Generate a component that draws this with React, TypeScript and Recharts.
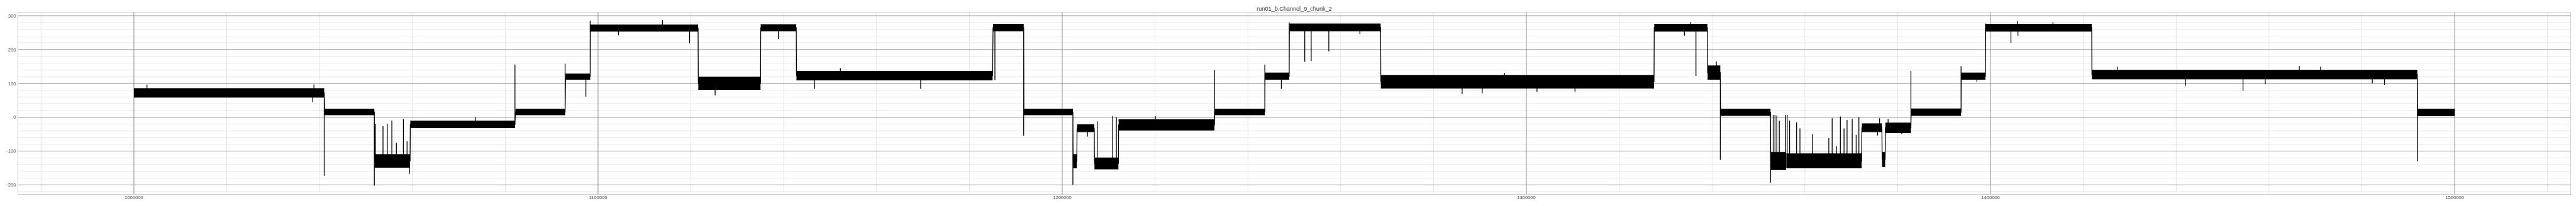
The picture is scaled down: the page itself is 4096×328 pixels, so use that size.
import React from 'react';
import {
  ComposedChart,
  Area,
  Line,
  XAxis,
  YAxis,
  CartesianGrid,
} from 'recharts';

// step levels of the trace: start, end, lower and upper edge of the noise band
const segStart = [1000000, 1041100, 1051850, 1059550, 1082200, 1093000, 1098350, 1121600, 1135050, 1142750, 1185100, 1191750, 1202350, 1203200, 1206950, 1212150, 1232850, 1243700, 1248950, 1268650, 1327550, 1339050, 1341850, 1352650, 1356000, 1372280, 1376650, 1377350, 1382900, 1393700, 1398950, 1421850, 1492000];
const segEnd = [1041000, 1051800, 1059500, 1082100, 1092900, 1098300, 1121550, 1135000, 1142700, 1185000, 1191700, 1202300, 1203150, 1206900, 1212100, 1232800, 1243650, 1248900, 1268600, 1327500, 1339000, 1341780, 1352600, 1355950, 1372230, 1376600, 1377300, 1382850, 1393650, 1398900, 1421800, 1491950, 1500000];
const segLow = [59, 7, -148, -31, 7, 112, 254, 82, 255, 110, 255, 7, -150, -43, -153, -38, 7, 112, 255, 86, 254, 112, 5, -155, -150, -43, -146, -46, 5, 112, 254, 113, 4];
const segHigh = [85, 24, -110, -11, 24, 128, 273, 119, 274, 136, 275, 24, -110, -22, -120, -7, 24, 131, 276, 124, 275, 152, 24, -104, -108, -19, -104, -17, 25, 131, 275, 139, 24];

// isolated spikes in the trace
const spikeX = [1002820, 1038530, 1038790, 1041000, 1051800, 1052030, 1053670, 1054590, 1055570, 1056550, 1058060, 1058850, 1059370, 1073590, 1082100, 1092900, 1097380, 1098300, 1104390, 1113890, 1119720, 1125220, 1138850, 1146640, 1152210, 1169510, 1185500, 1191700, 1202300, 1205440, 1207540, 1210880, 1211670, 1220060, 1232800, 1243650, 1247210, 1248900, 1252260, 1253640, 1257440, 1264130, 1286160, 1290490, 1295270, 1302290, 1310480, 1334050, 1335360, 1336540, 1340930, 1341780, 1352600, 1353180, 1353570, 1353960, 1354490, 1355870, 1356190, 1356710, 1358220, 1358940, 1361630, 1365160, 1365880, 1366800, 1367650, 1368440, 1369090, 1370200, 1371050, 1371640, 1375640, 1376100, 1377930, 1380880, 1382850, 1393650, 1397060, 1398900, 1404400, 1405780, 1405910, 1413450, 1427410, 1442020, 1454400, 1459190, 1466530, 1471120, 1482260, 1484880, 1491950];
const spikeY = [97, 45, 97, -173, -202, -19, -26, -19, -10, -76, -5, -71, -167, 0, 156, 158, 61, 286, 242, 287, 219, 65, 231, 84, 145, 84, 110, -54, -199, -57, -12, 3, 0, 3, 140, 156, 84, 280, 164, 166, 195, 246, 68, 71, 131, 75, 75, 241, 281, 122, 165, -126, -193, 7, 7, 5, -10, 7, 7, -10, -15, -33, -50, -62, -3, -85, 2, -33, -8, -5, -52, 0, -54, -3, -5, -50, 137, 151, 105, 277, 220, 285, 241, 281, 150, 93, 78, 98, 151, 150, 100, 96, -130];

const xTicks = [1000000, 1100000, 1200000, 1300000, 1400000, 1500000];
const yTicks = [-200, -100, 0, 100, 200, 300];
const xMinor = [980000, 1020000, 1040000, 1060000, 1080000, 1120000, 1140000, 1160000, 1180000, 1220000, 1240000, 1260000, 1280000, 1320000, 1340000, 1360000, 1380000, 1420000, 1440000, 1460000, 1480000, 1520000];
const yMinor = [-220, -180, -160, -140, -120, -80, -60, -40, -20, 20, 40, 60, 80, 120, 140, 160, 180, 220, 240, 260, 280];

const X_DOMAIN = [975000, 1525000];
const Y_DOMAIN = [-228, 310];

const FONT = '"Liberation Sans", Arial, sans-serif';

const mid = (i: number) => (segLow[i] + segHigh[i]) / 2;

const segIndexAt = (x: number) => {
  let idx = 0;
  segStart.forEach((s, i) => {
    if (s <= x) idx = i;
  });
  return idx;
};

// build the line trace: plateaus joined by jumps, spikes as vertical strokes
const trace = (() => {
  const pts: { x: number; y: number; p: number }[] = [];
  segStart.forEach((s, i) => {
    pts.push({ x: s, y: mid(i), p: 0 });
    pts.push({ x: segEnd[i], y: mid(i), p: 0 });
  });
  spikeX.forEach((x, k) => {
    const m = mid(segIndexAt(x));
    pts.push({ x, y: m, p: 1 });
    pts.push({ x, y: spikeY[k], p: 1 });
    pts.push({ x, y: m, p: 1 });
  });
  return pts
    .map((d, i) => ({ ...d, i }))
    .sort((a, b) => a.x - b.x || a.p - b.p || a.i - b.i)
    .map((d) => ({ x: d.x, y: d.y }));
})();

const bands = segStart.map((s, i) => [
  { x: s, band: [segLow[i], segHigh[i]] },
  { x: segEnd[i], band: [segLow[i], segHigh[i]] },
]);

const fmt = (v: number) => String(v).replace('-', '\u2212');

export default function App() {
  return (
    <div style={{ position: 'absolute', left: 0, top: 0, width: 4096, height: 328, background: '#fff' }}>
      <div
        style={{
          position: 'absolute',
          left: 28.4,
          width: 4059.2,
          top: 9.8,
          textAlign: 'center',
          fontFamily: FONT,
          fontSize: 9.1,
          lineHeight: '9.1px',
          color: '#333',
          whiteSpace: 'nowrap',
        }}
      >
        run01_b.Channel_9_chunk_2
      </div>
      <ComposedChart
        width={4096}
        height={328}
        margin={{ top: 19.7, right: 8.4, left: 0, bottom: 0 }}
      >
        <CartesianGrid
          horizontalValues={yMinor}
          verticalValues={xMinor}
          stroke="#e4e4e4"
          strokeWidth={1}
        />
        <CartesianGrid
          horizontalValues={yTicks}
          verticalValues={xTicks}
          stroke="#8c8c8c"
          strokeWidth={1}
        />
        <CartesianGrid
          horizontalValues={Y_DOMAIN}
          verticalValues={X_DOMAIN}
          stroke="#cccccc"
          strokeWidth={1}
        />
        <XAxis
          type="number"
          dataKey="x"
          domain={X_DOMAIN}
          ticks={xTicks}
          allowDataOverflow
          axisLine={false}
          tickLine={false}
          tickSize={0}
          tickMargin={2}
          height={18.5}
          interval={0}
          tick={{ fontSize: 7.6, fill: '#444', fontFamily: FONT }}
        />
        <YAxis
          type="number"
          domain={Y_DOMAIN}
          ticks={yTicks}
          allowDataOverflow
          axisLine={false}
          tickLine={false}
          tickSize={0}
          tickMargin={3}
          width={28.4}
          interval={0}
          tickFormatter={fmt}
          tick={{ fontSize: 7.6, fill: '#444', fontFamily: FONT }}
        />
        {bands.map((d, i) => (
          <Area
            key={`band-${i}`}
            data={d}
            dataKey="band"
            type="linear"
            stroke="#000"
            strokeWidth={1}
            fill="#000"
            fillOpacity={1}
            dot={false}
            activeDot={false}
            isAnimationActive={false}
          />
        ))}
        <Line
          data={trace}
          dataKey="y"
          type="linear"
          stroke="#000"
          strokeWidth={1.3}
          dot={false}
          activeDot={false}
          isAnimationActive={false}
        />
      </ComposedChart>
    </div>
  );
}
